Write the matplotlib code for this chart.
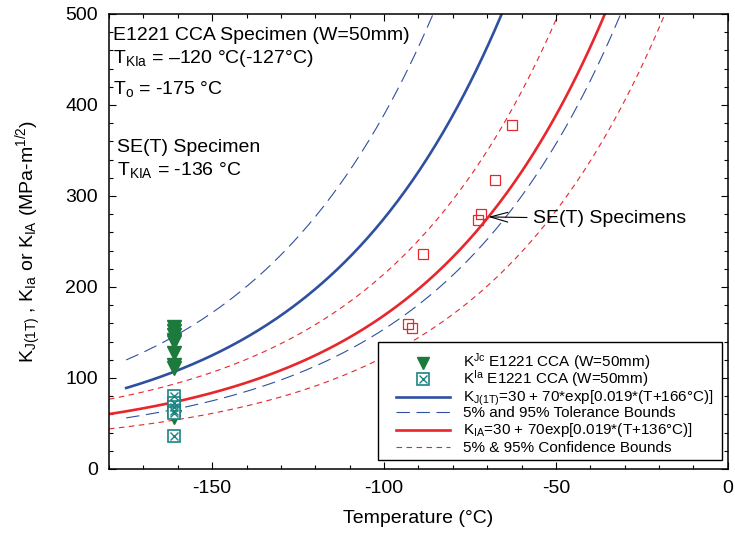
import numpy as np
import matplotlib
matplotlib.use('Agg')
import matplotlib.pyplot as plt
from matplotlib.ticker import MultipleLocator
from matplotlib.patches import Rectangle

plt.rcParams['font.family'] = ['Liberation Sans', 'DejaVu Sans']
plt.rcParams['mathtext.fontset'] = 'custom'
plt.rcParams['mathtext.rm'] = 'Liberation Sans'
plt.rcParams['mathtext.it'] = 'Liberation Sans:italic'
plt.rcParams['axes.unicode_minus'] = False

# KJc data, E1221 CCA (W=50mm)
t_kjc = [-161, -161, -161, -161, -161, -161, -161, -161, -161]
k_jc = [156, 152, 147, 142, 139, 127, 114, 111, 57]

# KIa data, E1221 CCA (W=50mm)
t_kia = [-161, -161, -161, -161, -161, -161]
k_ia = [80, 73, 68, 64, 61, 36]

# SE(T) specimens
t_set = [-62.8, -67.8, -71.7, -72.7, -88.8, -93.0, -91.9]
k_set = [378, 318, 280, 274, 236, 159, 155]

# master curve parameters
t_kjc_ref = -166     # KJ(1T) curve
t_kia_ref = -136     # KIA curve
t_start_blue = -175
t_start_red = -180
t_end = 0
tol_lo, tol_hi = 0.4759, 1.3156   # [ln(1/(1-p))]^(1/4) for 5% / 95%
conf_lo, conf_hi = 0.73, 1.27

labels = [r'K$^{\mathrm{Jc}}$ E1221 CCA (W=50mm)',
          r'K$^{\mathrm{Ia}}$ E1221 CCA (W=50mm)',
          r'K$_{\mathrm{J(1T)}}$=30 + 70*exp[0.019*(T+166°C)]',
          '5% and 95% Tolerance Bounds',
          r'K$_{\mathrm{IA}}$=30 + 70exp[0.019*(T+136°C)]',
          '5% & 95% Confidence Bounds']

blue = '#2f4fa0'
red = '#e8262c'
green = '#1b7a3c'
teal = '#1b8583'

fig = plt.figure(figsize=(7.35, 5.44), dpi=100)
ax = fig.add_axes([0.1483, 0.1379, 0.842, 0.8364])

tb = np.linspace(t_start_blue, t_end, 400)
eb = np.exp(0.019 * (tb - t_kjc_ref))
k_med = 30 + 70 * eb
k_tol_hi = 20 + tol_hi * (11 + 77 * eb)
k_tol_lo = 20 + tol_lo * (11 + 77 * eb)

tr = np.linspace(t_start_red, t_end, 400)
k_ia_fit = 30 + 70 * np.exp(0.019 * (tr - t_kia_ref))

# styles, shared by the plot and the legend
st_jc = dict(ls='none', marker='v', ms=10, color=green, mec=green)
st_sq = dict(ls='none', marker='s', ms=8, mfc='white', mec=teal, mew=1.2)
st_x = dict(ls='none', marker='x', ms=5.5, color=teal, mew=1.0)
st_b = dict(color=blue, lw=1.9)
st_bd = dict(color=blue, lw=0.8, dashes=(12, 6))
st_r = dict(color=red, lw=1.9)
st_rd = dict(color=red, lw=0.8, dashes=(5, 4))

ax.plot(tb, k_med, **st_b)
ax.plot(tb, k_tol_hi, **st_bd)
ax.plot(tb, k_tol_lo, **st_bd)
ax.plot(tr, k_ia_fit, **st_r)
ax.plot(tr, k_ia_fit * conf_hi, **st_rd)
ax.plot(tr, k_ia_fit * conf_lo, **st_rd)

ax.plot(t_set, k_set, ls='none', marker='s', ms=7.5, mfc='none', mec=red, mew=0.9)

ax.plot(t_kjc, k_jc, **st_jc)
ax.plot(t_kia, k_ia, **st_sq)
ax.plot(t_kia, k_ia, **st_x)

ax.annotate('SE(T) Specimens', xy=(-69.7, 277), xytext=(-56.8, 275),
            fontsize=14, va='center', ha='left',
            arrowprops=dict(arrowstyle='->,head_length=0.9,head_width=0.25',
                            color='k', lw=0.8, shrinkA=2, shrinkB=0))

ax.set_xlim(-180, 0)
ax.set_ylim(0, 500)
ax.xaxis.set_major_locator(MultipleLocator(50))
ax.xaxis.set_minor_locator(MultipleLocator(10))
ax.yaxis.set_major_locator(MultipleLocator(100))
ax.yaxis.set_minor_locator(MultipleLocator(20))
ax.tick_params(which='both', direction='in', top=True, right=True, labelsize=14, width=0.8)
ax.tick_params(which='major', length=5, pad=8)
ax.tick_params(which='minor', length=3)
for s in ax.spines.values():
    s.set_linewidth(1.1)

ax.set_xlabel('Temperature (°C)', fontsize=14)
ax.xaxis.set_label_coords(0.5, -0.09)
ax.set_ylabel(r'K$_{\mathrm{J(1T)}}$ , K$_{\mathrm{Ia}}$ or K$_{\mathrm{IA}}$ (MPa-m$^{\mathrm{1/2}}$)', fontsize=14)
ax.yaxis.set_label_coords(-0.105, 0.5)

ax.text(0.006, 0.943, 'E1221 CCA Specimen (W=50mm)', transform=ax.transAxes, fontsize=14, va='baseline')
ax.text(0.006, 0.892, r'T$_{\mathrm{KIa}}$ = –120 °C(-127°C)', transform=ax.transAxes, fontsize=14, va='baseline')
ax.text(0.006, 0.825, r'T$_{\mathrm{o}}$ = -175 °C', transform=ax.transAxes, fontsize=14, va='baseline')
ax.text(0.013, 0.697, 'SE(T) Specimen', transform=ax.transAxes, fontsize=14, va='baseline')
ax.text(0.013, 0.646, r'T$_{\mathrm{KIA}}$ = -136 °C', transform=ax.transAxes, fontsize=14, va='baseline')

# legend drawn by hand so the rows keep an even pitch like the original
ta = ax.transAxes
ax.add_patch(Rectangle((0.4346, 0.0198), 0.5557, 0.2594, transform=ta,
                       facecolor='white', edgecolor='k', lw=1.0, zorder=5))
row_y = [0.2336, 0.1971, 0.1576, 0.1246, 0.0857, 0.0477]
hx0, hx1, hxm, tx = 0.4637, 0.5509, 0.5078, 0.5714
ax.plot([hxm], [row_y[0]], transform=ta, zorder=6, clip_on=False, **{**st_jc, 'ms': 9})
ax.plot([hxm], [row_y[1]], transform=ta, zorder=6, clip_on=False, **st_sq)
ax.plot([hxm], [row_y[1]], transform=ta, zorder=6, clip_on=False, **st_x)
ax.plot([hx0, hx1], [row_y[2]] * 2, transform=ta, zorder=6, **st_b)
ax.plot([hx0, hx1], [row_y[3]] * 2, transform=ta, zorder=6, **st_bd)
ax.plot([hx0, hx1], [row_y[4]] * 2, transform=ta, zorder=6, **st_r)
ax.plot([hx0, hx1], [row_y[5]] * 2, transform=ta, zorder=6, **st_rd)
for y, lab in zip(row_y, labels):
    ax.text(tx, y - 0.0095, lab, transform=ta, fontsize=11, va='baseline', zorder=7)

fig.savefig('out.png', dpi=100)
